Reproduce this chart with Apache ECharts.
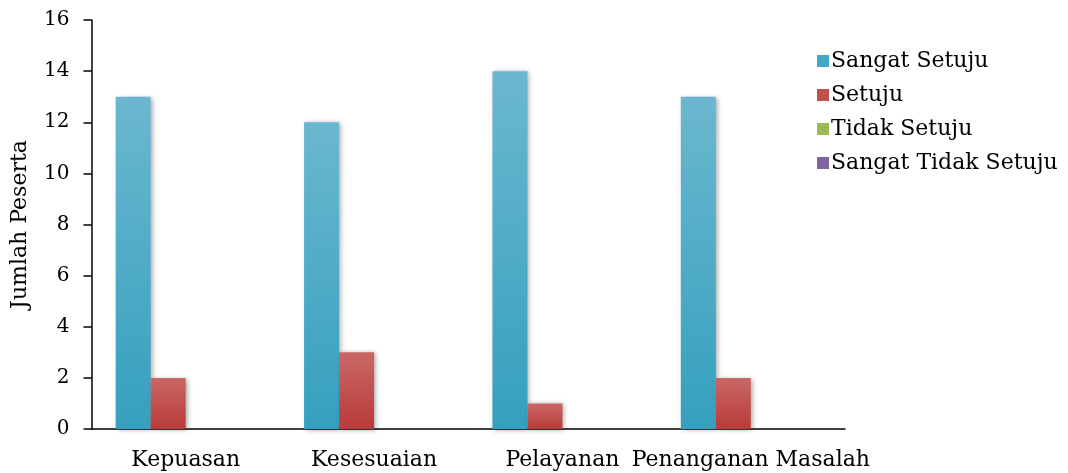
<!DOCTYPE html>
<html>
<head>
<meta charset="utf-8">
<script src="https://cdn.jsdelivr.net/npm/echarts@6/dist/echarts.min.js"></script>
<style>
  html, body { margin: 0; padding: 0; background: #fff; }
  #chart { width: 1068px; height: 473px; }
</style>
</head>
<body>
<div id="chart"></div>
<script>
// Survey responses per aspect
const categories = ['Kepuasan', 'Kesesuaian', 'Pelayanan', 'Penanganan Masalah'];
const sangatSetuju = [13, 12, 14, 13];
const setuju = [2, 3, 1, 2];
const tidakSetuju = [0, 0, 0, 0];
const sangatTidakSetuju = [0, 0, 0, 0];
const yTicks = { min: 0, max: 16, interval: 2 };

const FONT = '"DejaVu Serif", "Liberation Serif", serif';

function grad(top, bottom) {
  return new echarts.graphic.LinearGradient(0, 0, 0, 1, [
    { offset: 0, color: top },
    { offset: 1, color: bottom }
  ]);
}

function barSeries(name, data, top, bottom) {
  return {
    name: name,
    type: 'bar',
    data: data,
    barWidth: 35,
    barGap: '0%',
    itemStyle: {
      color: grad(top, bottom),
      shadowColor: 'rgba(0,0,0,0.35)',
      shadowBlur: 5,
      shadowOffsetX: 2,
      shadowOffsetY: 1
    },
    emphasis: { disabled: true }
  };
}

const chart = echarts.init(document.getElementById('chart'), null, { renderer: 'canvas' });
chart.setOption({
  animation: false,
  textStyle: { fontFamily: FONT },
  color: ['#41a8c6', '#c0504d', '#9bbb59', '#8064a2'],
  grid: { left: 91.5, right: 223, top: 20, bottom: 44, containLabel: false },
  legend: {
    orient: 'vertical',
    left: 812,
    top: 45,
    itemWidth: 12,
    itemHeight: 12,
    itemGap: 12,
    icon: 'rect',
    textStyle: { fontFamily: FONT, fontSize: 22, lineHeight: 22, color: '#000', padding: [0, 0, 0, -3] },
    data: [
      { name: 'Sangat Setuju', itemStyle: { color: '#41a8c6' } },
      { name: 'Setuju', itemStyle: { color: '#c0504d' } },
      { name: 'Tidak Setuju', itemStyle: { color: '#9bbb59' } },
      { name: 'Sangat Tidak Setuju', itemStyle: { color: '#8064a2' } }
    ]
  },
  xAxis: {
    type: 'category',
    data: categories,
    axisLine: { lineStyle: { color: '#000', width: 1.5 } },
    axisTick: { show: false },
    axisLabel: { fontFamily: FONT, fontSize: 22, color: '#000', margin: 20, interval: 0 }
  },
  yAxis: {
    type: 'value',
    min: yTicks.min,
    max: yTicks.max,
    interval: yTicks.interval,
    name: 'Jumlah Peserta',
    nameLocation: 'middle',
    nameGap: 60,
    nameRotate: 90,
    nameTextStyle: { fontFamily: FONT, fontSize: 22, color: '#000' },
    axisLine: { show: true, lineStyle: { color: '#000', width: 1.5 } },
    axisTick: { show: true, length: 8, lineStyle: { color: '#000', width: 1.5 } },
    splitLine: { show: false },
    axisLabel: { fontFamily: FONT, fontSize: 20, color: '#000', margin: 22 }
  },
  series: [
    barSeries('Sangat Setuju', sangatSetuju, '#6bb7cf', '#35a0be'),
    barSeries('Setuju', setuju, '#c96866', '#b83b39'),
    barSeries('Tidak Setuju', tidakSetuju, '#a9c66f', '#90b14c'),
    barSeries('Sangat Tidak Setuju', sangatTidakSetuju, '#9079b1', '#735797')
  ]
});
</script>
</body>
</html>
